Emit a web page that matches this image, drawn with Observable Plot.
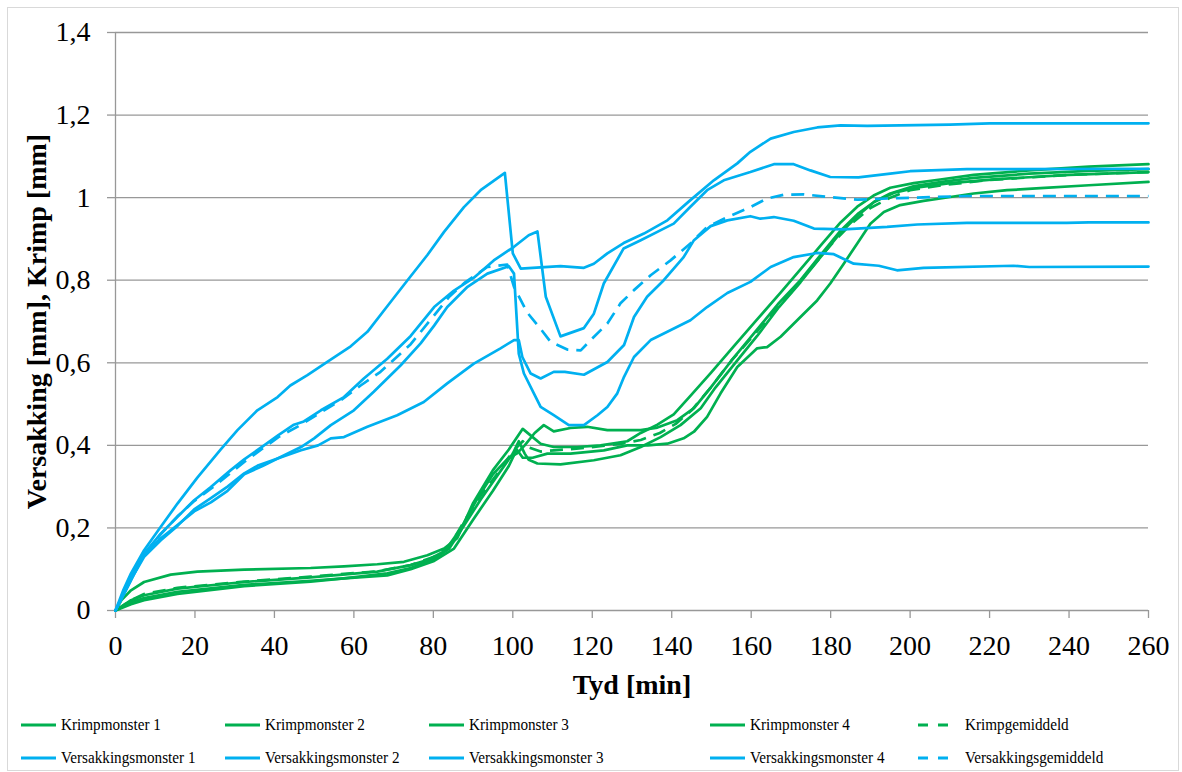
<!DOCTYPE html>
<html>
<head>
<meta charset="utf-8">
<script src="https://cdn.jsdelivr.net/npm/d3@7"></script>
<script src="https://cdn.jsdelivr.net/npm/@observablehq/plot@0.6"></script>
<style>
  body { margin: 0; background: #fff; font-family: "Liberation Serif", "Times New Roman", serif; }
  #chart { position: relative; width: 1182px; height: 772px; overflow: hidden; }
  #plot { position: absolute; left: 0; top: 0; }
  #frame { position: absolute; left: 7px; top: 7px; width: 1172px; height: 764px; box-sizing: border-box;
           border: 1px solid #d9d9d9; pointer-events: none; }
  .item { position: absolute; height: 22px; display: flex; align-items: center; font-size: 16.5px; color: #000; white-space: nowrap; }
  .item svg { display: block; margin-right: 5px; }
  .item span { display: inline-block; transform: scaleX(0.92); transform-origin: left center; }
</style>
</head>
<body>
<div id="chart">
  <div id="plot"></div>
  <div id="legend"></div>
  <div id="frame"></div>
</div>
<script>
// Time in minutes, displacement in mm: [tyd, waarde]
const krimp1 = [[0,0],[1.5,0.025],[3.9,0.049],[7.2,0.069],[13.9,0.087],[20.6,0.094],[32.4,0.099],[49.1,0.103],[57.5,0.107],[65.9,0.112],[72.6,0.118],[78.5,0.134],[82.7,0.15],[86,0.175],[90,0.26],[95,0.34],[99,0.39],[102.5,0.44],[105,0.42],[107,0.404],[110.3,0.396],[116.2,0.396],[122.1,0.4],[128.8,0.41],[132.2,0.43],[136.4,0.45],[140.5,0.475],[144.7,0.52],[149.8,0.575],[155.6,0.64],[161.5,0.705],[167.4,0.77],[172.4,0.826],[177.4,0.883],[182.5,0.94],[186.7,0.978],[190.8,1.005],[195,1.024],[200.9,1.035],[207.6,1.044],[216,1.055],[230,1.066],[245,1.075],[260,1.081]];
const krimp2 = [[0,0],[3.9,0.025],[7.2,0.037],[15.6,0.053],[32.4,0.069],[49.1,0.08],[65.9,0.094],[74.3,0.11],[78.5,0.122],[83,0.145],[87,0.2],[91,0.27],[95,0.33],[99,0.37],[101,0.38],[103,0.4],[105.5,0.43],[107.8,0.449],[110.3,0.434],[114.5,0.442],[118.7,0.445],[123.8,0.437],[132.2,0.437],[136.4,0.443],[141.4,0.461],[145.6,0.49],[149.8,0.54],[155,0.605],[161,0.675],[167,0.745],[172.4,0.8],[177.4,0.86],[182.5,0.92],[187,0.962],[191,0.99],[195,1.01],[201,1.028],[208,1.038],[216,1.048],[230,1.058],[245,1.065],[260,1.069]];
const krimp3 = [[0,0],[3.9,0.015],[7.2,0.025],[15.6,0.04],[32.4,0.059],[49.1,0.07],[57.5,0.078],[68.4,0.09],[74.3,0.103],[80.2,0.125],[84,0.15],[88,0.21],[92,0.27],[96,0.325],[100,0.38],[101.5,0.41],[103,0.38],[104,0.365],[106.2,0.356],[112,0.354],[120.4,0.364],[127.1,0.376],[132.2,0.396],[137.2,0.42],[142.2,0.449],[147.3,0.49],[151,0.54],[156,0.6],[161.5,0.665],[167,0.735],[172.4,0.795],[177.4,0.855],[182.5,0.915],[187,0.958],[191,0.99],[196,1.012],[202,1.025],[210,1.035],[222,1.045],[240,1.055],[260,1.062]];
const krimp4 = [[0,0],[3.9,0.02],[7.2,0.03],[15.6,0.045],[32.4,0.062],[49.1,0.072],[57.5,0.078],[68.4,0.085],[74.3,0.1],[80.2,0.12],[85.2,0.15],[90,0.22],[95,0.29],[99,0.35],[101,0.39],[102.5,0.37],[105,0.37],[108.7,0.38],[114.5,0.38],[122.9,0.388],[128.8,0.4],[134,0.4],[138.9,0.404],[143,0.417],[145.6,0.433],[148.9,0.469],[152.3,0.526],[156.5,0.59],[161.5,0.635],[164,0.638],[167.4,0.663],[172.4,0.711],[176.6,0.751],[179.9,0.792],[183.3,0.84],[186.7,0.889],[190,0.937],[193.4,0.965],[197.5,0.982],[203.4,0.992],[207.6,0.998],[216,1.01],[224.4,1.018],[232.8,1.023],[245,1.03],[260,1.038]];
const krimpGem = [[0,0],[3.9,0.025],[7.2,0.04],[15.6,0.055],[32.4,0.07],[49.1,0.082],[65.9,0.095],[74.3,0.11],[80.2,0.13],[84,0.155],[88,0.22],[92,0.28],[96,0.33],[100,0.385],[102.5,0.41],[104,0.395],[107,0.385],[110.3,0.388],[116,0.392],[122,0.398],[128,0.405],[132.2,0.413],[137,0.43],[141,0.452],[145,0.485],[149.8,0.54],[155,0.605],[160,0.66],[165,0.715],[170,0.77],[175,0.828],[180,0.885],[185,0.935],[190,0.975],[195,1.0],[200,1.018],[208,1.03],[220,1.043],[240,1.055],[260,1.062]];

const versakking1 = [[0,0],[2,0.05],[3.9,0.09],[7.2,0.146],[11.4,0.203],[15.6,0.259],[20.6,0.322],[26.5,0.39],[30.7,0.437],[35.7,0.485],[40.8,0.517],[44,0.545],[48.3,0.57],[53.3,0.602],[59.2,0.64],[63.4,0.675],[68.4,0.737],[73.5,0.8],[78.5,0.861],[82.7,0.917],[87.7,0.977],[91.9,1.018],[98,1.06],[100,0.865],[102,0.828],[107,0.831],[112,0.834],[117.9,0.83],[120.4,0.84],[123.8,0.865],[127.9,0.89],[133,0.913],[138.9,0.945],[144.7,0.994],[150.6,1.042],[156.5,1.083],[159.8,1.111],[164.9,1.143],[170.7,1.159],[176.6,1.17],[182.5,1.175],[189.2,1.174],[197.5,1.175],[210,1.177],[220,1.18],[260,1.18]];
const versakking2 = [[0,0],[3.9,0.073],[7.2,0.138],[11.4,0.186],[15.6,0.227],[19.8,0.267],[24,0.299],[29,0.34],[32.4,0.366],[37.4,0.4],[41,0.425],[44.9,0.45],[47.4,0.458],[51.7,0.485],[57.5,0.517],[62.5,0.562],[68.4,0.61],[74.3,0.665],[80.2,0.735],[85.2,0.775],[90.2,0.806],[95.2,0.848],[100.3,0.881],[104,0.909],[106.2,0.918],[108.3,0.76],[112,0.664],[117.9,0.684],[120.4,0.719],[122.9,0.792],[127.9,0.877],[132.2,0.897],[138,0.925],[140.5,0.937],[144.7,0.978],[148.9,1.018],[153.1,1.042],[159.8,1.062],[165.7,1.081],[170.7,1.081],[174.9,1.066],[179.9,1.05],[187,1.049],[195,1.058],[200,1.064],[214.3,1.069],[260,1.07]];
const versakking3 = [[0,0],[3.9,0.08],[7.2,0.135],[11.4,0.175],[15.6,0.207],[19.8,0.24],[24,0.262],[28.2,0.29],[32.4,0.33],[37,0.35],[40.8,0.368],[46.7,0.396],[50,0.417],[54.2,0.449],[60,0.485],[65,0.53],[71.8,0.594],[76.8,0.647],[80.2,0.69],[83.5,0.735],[88.6,0.784],[93.6,0.816],[99,0.834],[100.3,0.816],[101.5,0.622],[102.8,0.574],[105.3,0.526],[107,0.493],[110.3,0.473],[114.1,0.449],[117.9,0.449],[121.3,0.473],[123.8,0.493],[126.3,0.526],[128,0.566],[130.5,0.614],[134.7,0.655],[138.9,0.675],[144.7,0.703],[148.9,0.735],[154,0.769],[159.8,0.796],[164.9,0.832],[170.7,0.856],[176.6,0.866],[180.8,0.863],[185.8,0.84],[192.1,0.835],[196.7,0.824],[203.4,0.83],[226,0.835],[230,0.832],[260,0.833]];
const versakking4 = [[0,0],[3.9,0.075],[7.2,0.13],[11.4,0.17],[15.6,0.205],[19.8,0.245],[24,0.272],[28.2,0.3],[32.4,0.332],[36,0.352],[40.8,0.368],[46.7,0.388],[51,0.4],[54.2,0.417],[57.5,0.42],[63.4,0.445],[70.9,0.473],[77.6,0.505],[83.5,0.55],[90.2,0.598],[96.9,0.635],[100.3,0.655],[101.5,0.655],[102.4,0.614],[104.5,0.574],[107,0.562],[110.3,0.578],[113.1,0.578],[117.9,0.571],[123.8,0.602],[128,0.643],[130.5,0.711],[133.8,0.76],[138,0.8],[143,0.856],[145.6,0.897],[149.8,0.931],[154,0.945],[159.8,0.955],[162.3,0.949],[165.7,0.953],[170.7,0.944],[175.8,0.925],[183.3,0.923],[194.2,0.929],[201.8,0.935],[214.3,0.939],[239.4,0.939],[245,0.94],[260,0.94]];
const versakkingGem = [[0,0],[3.9,0.075],[7.2,0.135],[11.4,0.185],[15.6,0.228],[19.8,0.265],[24,0.295],[29,0.333],[32.4,0.36],[37.4,0.395],[41,0.42],[46.7,0.45],[51.7,0.48],[56.7,0.509],[61.7,0.545],[66.7,0.578],[74.3,0.645],[80.2,0.715],[84,0.76],[88,0.795],[93.6,0.832],[98.6,0.838],[100.3,0.784],[103.6,0.722],[106.6,0.687],[109.5,0.651],[113.7,0.632],[117.1,0.63],[119.6,0.655],[123.8,0.695],[127.1,0.744],[130.5,0.776],[134.7,0.812],[139.7,0.848],[144.7,0.889],[148.9,0.929],[154,0.953],[159.8,0.977],[164,0.998],[168.2,1.007],[173.2,1.008],[179.1,1.002],[186.7,0.995],[189.2,0.996],[197.5,0.999],[214.3,1.004],[260,1.004]];

const seriesNames = ["Krimpmonster 1", "Krimpmonster 2", "Krimpmonster 3", "Krimpmonster 4", "Krimpgemiddeld",
                     "Versakkingsmonster 1", "Versakkingsmonster 2", "Versakkingsmonster 3", "Versakkingsmonster 4", "Versakkingsgemiddeld"];
const seriesData = [krimp1, krimp2, krimp3, krimp4, krimpGem, versakking1, versakking2, versakking3, versakking4, versakkingGem];
const xTicks = [0, 20, 40, 60, 80, 100, 120, 140, 160, 180, 200, 220, 240, 260];
const yTicks = [0, 0.2, 0.4, 0.6, 0.8, 1, 1.2, 1.4];
const xTitle = "Tyd [min]";
const yTitle = "Versakking [mm], Krimp [mm]";

const green = "#00b050", blue = "#00b0f0", gridColor = "#989898";
const colorOf = name => name.startsWith("Krimp") ? green : blue;
const isMean = name => name.endsWith("gemiddeld");
const fmt = d => Number.isInteger(d) ? String(d) : d.toFixed(1).replace(".", ",");

const lineMarks = seriesNames.map((name, i) => Plot.line(seriesData[i], {
  x: d => d[0], y: d => d[1],
  stroke: colorOf(name), strokeWidth: 2.7,
  strokeDasharray: isMean(name) ? "13,8" : null,
  strokeLinecap: isMean(name) ? "butt" : "round",
  strokeLinejoin: "round"
}));

const chart = Plot.plot({
  width: 1182, height: 700,
  marginLeft: 115, marginRight: 34, marginTop: 32, marginBottom: 90,
  style: { fontFamily: "'Liberation Serif', 'Times New Roman', serif", background: "transparent", color: "#000" },
  x: { domain: [0, 260] },
  y: { domain: [0, 1.4] },
  marks: [
    Plot.ruleY(yTicks.filter(d => d > 0), { stroke: gridColor, strokeWidth: 1.3 }),
    Plot.ruleX([0], { stroke: gridColor, strokeWidth: 1.3 }),
    Plot.ruleY([0], { stroke: gridColor, strokeWidth: 1.3 }),
    Plot.axisX({ ticks: xTicks, tickFormat: d => String(d), tickSize: 8, tickPadding: 17, fontSize: 28,
                 stroke: gridColor, strokeWidth: 1.3, fill: "#000", label: null }),
    Plot.axisY({ ticks: yTicks, tickFormat: fmt, tickSize: 8, tickPadding: 17, fontSize: 28,
                 stroke: gridColor, strokeWidth: 1.3, fill: "#000", label: null }),
    ...lineMarks,
    Plot.text([xTitle], { frameAnchor: "bottom", dy: 75, fontSize: 28, fontWeight: "bold", fill: "#000",
                          textAnchor: "middle", lineAnchor: "middle" }),
    Plot.text([yTitle], { frameAnchor: "left", dx: -78, rotate: -90, fontSize: 28, fontWeight: "bold", fill: "#000",
                          textAnchor: "middle", lineAnchor: "middle" })
  ]
});
document.getElementById("plot").append(chart);

// Legend: two rows of five entries under the plot
const legendCols = [21, 225, 429, 710, 918];
const legendRows = [725, 758];
const legend = document.getElementById("legend");
seriesNames.forEach((name, i) => {
  const row = Math.floor(i / 5), col = i % 5;
  const item = document.createElement("div");
  item.className = "item";
  item.style.left = legendCols[col] + "px";
  item.style.top = (legendRows[row] - 11) + "px";
  const mean = isMean(name);
  const w = mean ? 36 : 35;
  const svg = d3.create("svg").attr("width", w).attr("height", 10);
  svg.append("line").attr("x1", 0).attr("x2", mean ? 31 : w).attr("y1", 5).attr("y2", 5)
    .attr("stroke", colorOf(name)).attr("stroke-width", 3)
    .attr("stroke-dasharray", mean ? "10,10" : null);
  item.append(svg.node());
  const span = document.createElement("span");
  span.textContent = name;
  if (mean) span.style.marginLeft = "6px";
  item.append(span);
  legend.append(item);
});
</script>
</body>
</html>
